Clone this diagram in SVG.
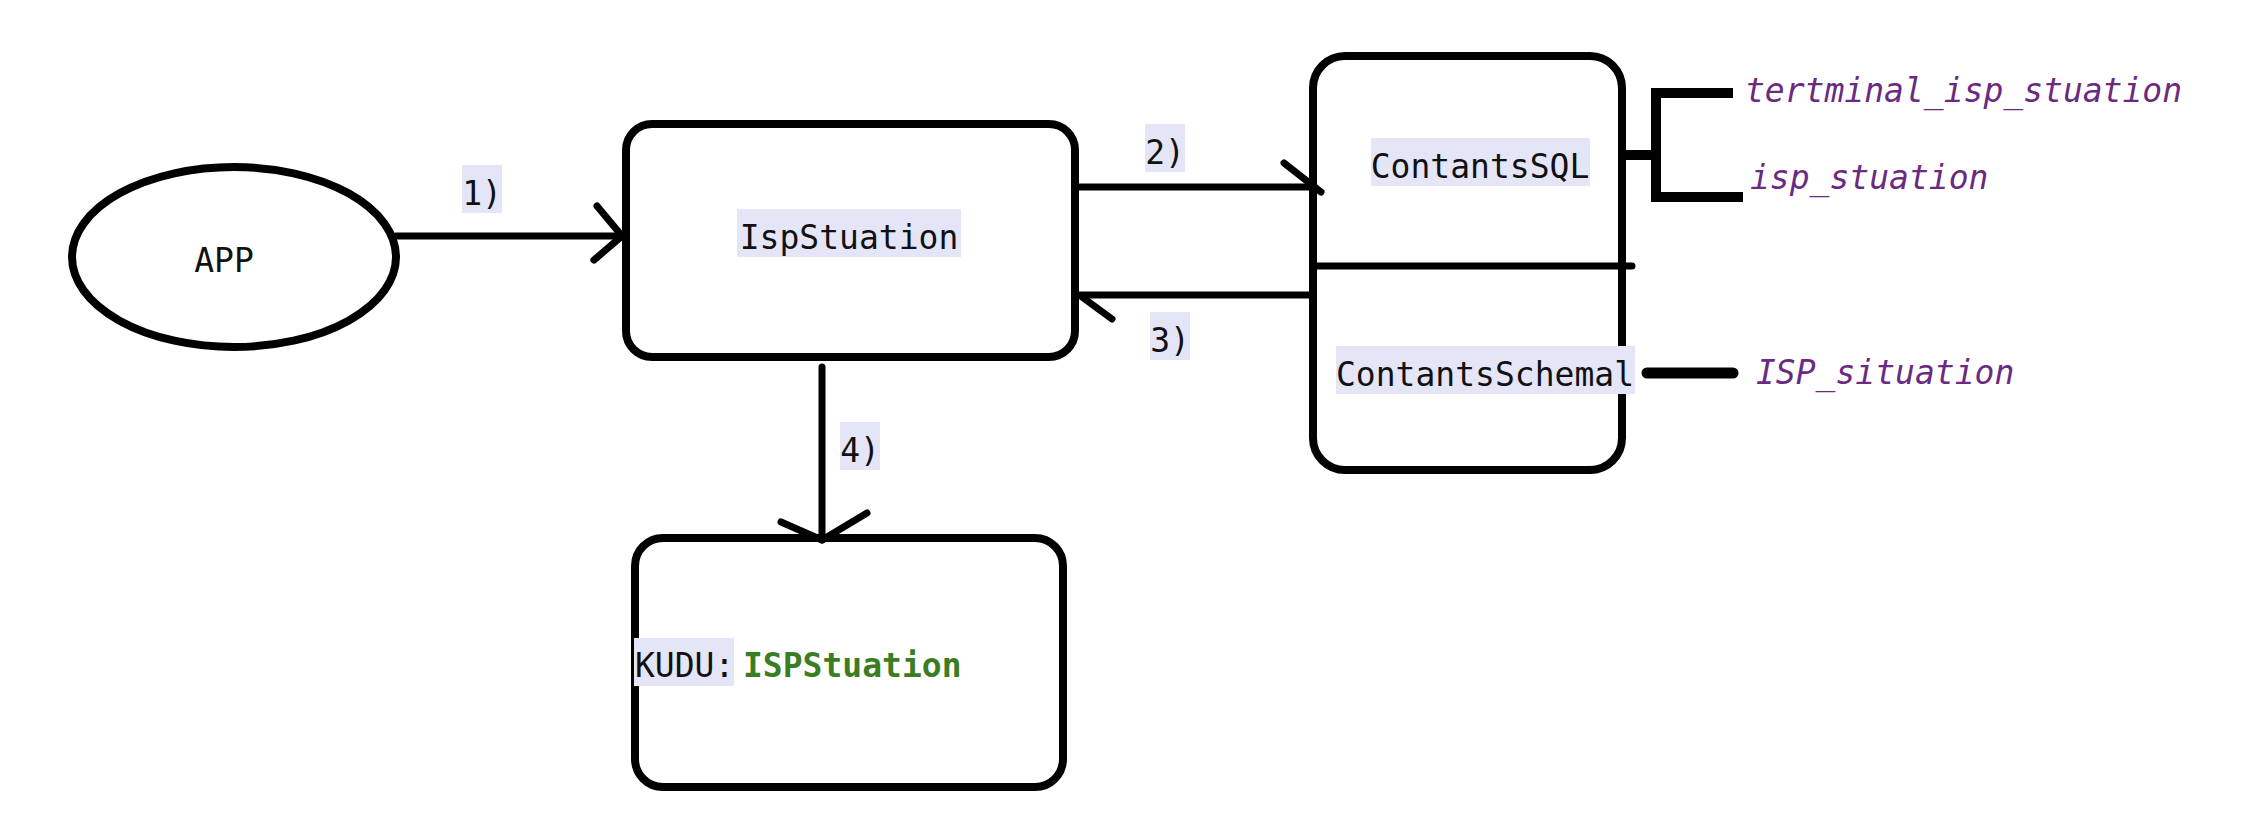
<svg xmlns="http://www.w3.org/2000/svg" width="2258" height="834" viewBox="0 0 2258 834">
<style>
.shape{fill:#ffffff;stroke:#000000;stroke-width:8}
.line{fill:none;stroke:#000000;stroke-width:7;stroke-linecap:round;stroke-linejoin:round}
.br{fill:none;stroke:#000000;stroke-width:10;stroke-linejoin:miter}
.lbg{fill:#e5e5f8}
.t{font-family:"DejaVu Sans Mono",monospace;font-size:33px;fill:#111111}
.p{font-family:"DejaVu Sans Mono",monospace;font-size:33px;font-style:italic;fill:#6b2a82}
.g{font-family:"DejaVu Sans Mono",monospace;font-size:33px;font-weight:bold;fill:#3b7d22}
</style>
<rect width="2258" height="834" fill="#ffffff"/>
<g id="app">
<ellipse class="shape" cx="234" cy="257" rx="162" ry="90"/>
<text class="t" x="224" y="272" text-anchor="middle">APP</text>
</g>
<g id="ispstuation">
<rect class="shape" x="626" y="124" width="449" height="233" rx="26"/>
<rect class="lbg" x="737" y="209" width="224" height="48"/>
<text class="t" x="849" y="249" text-anchor="middle">IspStuation</text>
</g>
<g id="contants">
<rect class="shape" x="1313" y="56" width="309" height="414" rx="32"/>
<line class="line" x1="1313" y1="266" x2="1632" y2="266" stroke-linecap="butt"/>
<rect class="lbg" x="1371" y="138" width="219" height="48"/>
<text class="t" x="1480" y="178" text-anchor="middle">ContantsSQL</text>
<rect class="lbg" x="1336" y="346" width="299" height="48"/>
<text class="t" x="1485" y="386" text-anchor="middle">ContantsSchemal</text>
</g>
<g id="kudu">
<rect class="shape" x="635" y="538" width="428" height="249" rx="28"/>
<rect class="lbg" x="634" y="638" width="100" height="48"/>
<text class="t" x="635" y="677">KUDU:</text>
<text class="g" x="743" y="677">ISPStuation</text>
</g>
<g id="fields">
<text class="p" x="1745" y="102">tertminal_isp_stuation</text>
<text class="p" x="1750" y="189">isp_stuation</text>
<text class="p" x="1756" y="384">ISP_situation</text>
</g>
<g id="connectors">
<line class="line" x1="396" y1="236" x2="624" y2="236" stroke-linecap="butt"/>
<polyline class="line" points="597,206 622,236 594,260"/>
<rect class="lbg" x="462" y="165" width="40" height="48"/>
<text class="t" x="482" y="205" text-anchor="middle">1)</text>
<line class="line" x1="1077" y1="187" x2="1313" y2="187" stroke-linecap="butt"/>
<line class="line" x1="1284" y1="163" x2="1321" y2="192"/>
<rect class="lbg" x="1145" y="124" width="40" height="48"/>
<text class="t" x="1165" y="164" text-anchor="middle">2)</text>
<line class="line" x1="1313" y1="295" x2="1077" y2="295" stroke-linecap="butt"/>
<line class="line" x1="1082" y1="297" x2="1112" y2="319"/>
<rect class="lbg" x="1150" y="312" width="40" height="48"/>
<text class="t" x="1170" y="352" text-anchor="middle">3)</text>
<line class="line" x1="822" y1="367" x2="822" y2="540" stroke-linecap="butt"/>
<polyline class="line" points="781,522 822,540 867,513"/>
<rect class="lbg" x="840" y="422" width="40" height="48"/>
<text class="t" x="860" y="462" text-anchor="middle">4)</text>
<path class="br" d="M1622,155 H1660"/>
<path class="br" d="M1733,93 H1656 V197 H1743"/>
<line x1="1647" y1="373" x2="1733" y2="373" stroke="#000000" stroke-width="11" stroke-linecap="round"/>
</g>
</svg>
